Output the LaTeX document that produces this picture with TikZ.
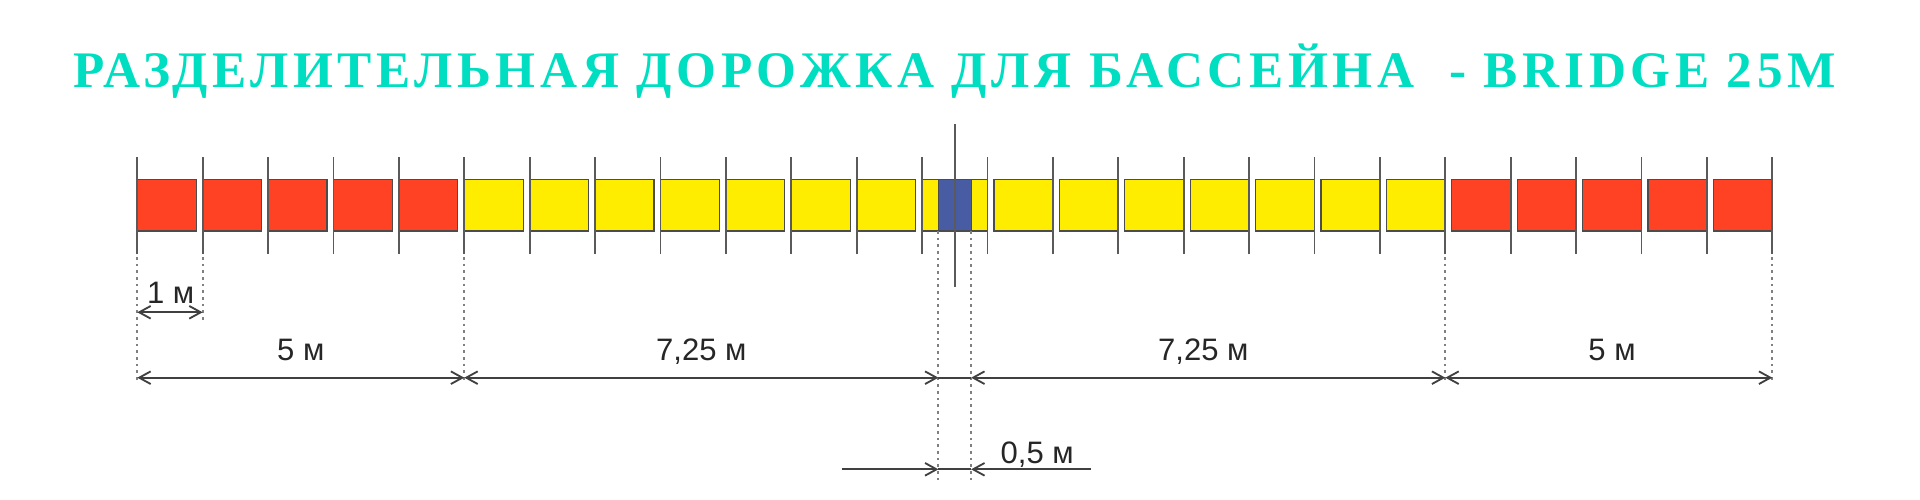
\documentclass[tikz,border=0pt]{standalone}
\usepackage{fontspec}
\setmainfont{Liberation Sans}
\newfontfamily\titlefont[LetterSpace=9.1]{Liberation Serif}
\usetikzlibrary{arrows.meta}
\definecolor{floatred}{RGB}{255,66,36}
\definecolor{floatyellow}{RGB}{255,237,0}
\definecolor{floatblue}{RGB}{72,92,164}
\definecolor{titlecyan}{RGB}{0,222,194}
\definecolor{linegray}{RGB}{90,90,90}

\begin{document}
\begin{tikzpicture}[
    box/.style={draw=black!70, line width=0.5pt},
    divline/.style={draw=linegray, line width=0.8pt},
    guide/.style={draw=gray, line width=0.9pt, dash pattern=on 1.1pt off 1.8pt},
    dimline/.style={draw=black!75, line width=0.8pt},
    barb/.tip={Straight Barb[length=5pt,width=5.5pt]},
    dimarrow/.style={dimline, barb-barb},
    dimtext/.style={font=\fontsize{13.5}{15}\selectfont, text=black!85, inner sep=0pt, anchor=base}
]
\useasboundingbox (-2.099,-4.113) rectangle (27.258,3.532);

\node[text=titlecyan, font=\titlefont\bfseries\fontsize{22.3}{26}\selectfont] (title) at (12.5,2.446)
    {РАЗДЕЛИТЕЛЬНАЯ ДОРОЖКА ДЛЯ БАССЕЙНА\ \ - BRIDGE 25M};

% floats
\foreach \k in {0,...,4} \draw[box, fill=floatred] (\k,0) rectangle ++(0.9,0.79);
\foreach \k in {5,...,11} \draw[box, fill=floatyellow] (\k,0) rectangle ++(0.9,0.79);
\draw[box, fill=floatyellow] (12,0) rectangle (13,0.79);
\draw[box, fill=floatblue] (12.25,0) rectangle (12.75,0.79);
\foreach \k in {13,...,19} \draw[box, fill=floatyellow] (\k+0.1,0) rectangle ++(0.9,0.79);
\foreach \k in {20,...,24} \draw[box, fill=floatred] (\k+0.1,0) rectangle ++(0.9,0.79);

% division lines
\foreach \k in {0,...,25} \draw[divline] (\k,-0.352) -- (\k,1.136);
\draw[divline] (12.5,-0.852) -- (12.5,1.636);

% guides
\foreach \x in {0,5,20,25} \draw[guide] (\x,-0.4) -- (\x,-2.33);
\draw[guide] (1,-0.4) -- (1,-1.36);
\foreach \x in {12.25,12.75} \draw[guide] (\x,0) -- (\x,-3.81);

% dimensions
\coordinate (m0) at (0,-1.243);
\coordinate (m1) at (1,-1.243);
\foreach \x/\n in {0/a,5/b,12.25/c,12.75/d,20/e,25/f} \coordinate (\n) at (\x,-2.243);
\foreach \x/\n in {10.77/h0,12.25/h1,12.75/h2,14.59/h3} \coordinate (\n) at (\x,-3.644);

\draw[dimarrow] (m0) -- (m1);
\draw[dimarrow] (a) -- (b);
\draw[dimarrow] (b) -- (c);
\draw[dimline] (c) -- (d);
\draw[dimarrow] (d) -- (e);
\draw[dimarrow] (e) -- (f);

\draw[dimline, -barb] (h0) -- (h1);
\draw[dimline] (h1) -- (h2);
\draw[dimline, barb-] (h2) -- (h3);

\node[dimtext] (len1) at (0.51,-1.106) {1 м};
\node[dimtext] (len5a) at (2.5,-1.98) {5 м};
\node[dimtext] (len7a) at (8.625,-1.98) {7,25 м};
\node[dimtext] (len7b) at (16.3,-1.98) {7,25 м};
\node[dimtext] (len5b) at (22.55,-1.98) {5 м};
\node[dimtext] (len05) at (13.76,-3.552) {0,5 м};
\end{tikzpicture}
\end{document}
